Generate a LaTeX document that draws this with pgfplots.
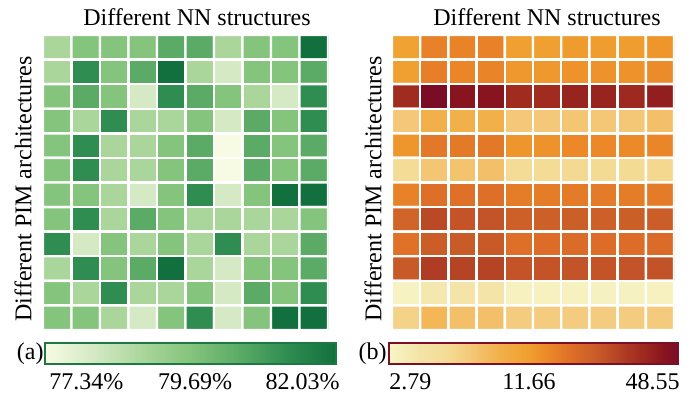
\documentclass[border=0pt]{standalone}
\usepackage{pgfplots}
\pgfplotsset{compat=1.18}
\usepackage{fontspec}
\setmainfont{Liberation Serif}
\definecolor{gdark}{RGB}{30,120,68}
\definecolor{rdark}{RGB}{122,16,37}
\pgfplotsset{
 colormap={greensL}{rgb255(0cm)=(247,251,228) rgb255(1cm)=(212,233,196) rgb255(2cm)=(170,214,155) rgb255(3cm)=(132,196,124) rgb255(4cm)=(91,171,102) rgb255(5cm)=(47,141,81) rgb255(6cm)=(17,112,61)},
 colormap={orangesL}{rgb255(0cm)=(247,246,200) rgb255(10cm)=(244,228,168) rgb255(20cm)=(244,220,150) rgb255(28cm)=(244,200,120) rgb255(38cm)=(242,176,74) rgb255(48cm)=(240,160,48) rgb255(55cm)=(236,136,40) rgb255(60cm)=(226,120,40) rgb255(64cm)=(220,108,40) rgb255(70cm)=(204,96,40) rgb255(74cm)=(196,84,40) rgb255(79cm)=(180,68,36) rgb255(81cm)=(176,60,36) rgb255(87cm)=(160,44,32) rgb255(90cm)=(152,36,32) rgb255(95cm)=(136,20,32) rgb255(100cm)=(122,12,37)},
 hm/.style={scale only axis, xmin=-0.5, xmax=9.5, ymin=-0.5, ymax=11.5, y dir=reverse, hide axis, colorbar horizontal},
}
\pgfplotstableread[row sep=\\]{
x y v\\
0 0 78.90\\ 1 0 79.69\\ 2 0 79.69\\ 3 0 79.69\\ 4 0 80.47\\ 5 0 80.47\\ 6 0 78.90\\ 7 0 79.69\\ 8 0 79.69\\ 9 0 82.03\\
0 1 78.90\\ 1 1 81.25\\ 2 1 79.69\\ 3 1 80.47\\ 4 1 82.03\\ 5 1 78.90\\ 6 1 78.12\\ 7 1 79.69\\ 8 1 79.69\\ 9 1 80.47\\
0 2 79.69\\ 1 2 80.47\\ 2 2 79.69\\ 3 2 78.12\\ 4 2 81.25\\ 5 2 80.47\\ 6 2 79.69\\ 7 2 78.90\\ 8 2 78.12\\ 9 2 81.25\\
0 3 79.69\\ 1 3 78.90\\ 2 3 81.25\\ 3 3 78.90\\ 4 3 78.90\\ 5 3 79.69\\ 6 3 78.12\\ 7 3 80.47\\ 8 3 79.69\\ 9 3 81.25\\
0 4 79.69\\ 1 4 81.25\\ 2 4 78.90\\ 3 4 78.90\\ 4 4 79.69\\ 5 4 80.47\\ 6 4 77.34\\ 7 4 80.47\\ 8 4 79.69\\ 9 4 80.47\\
0 5 79.69\\ 1 5 81.25\\ 2 5 78.90\\ 3 5 78.90\\ 4 5 79.69\\ 5 5 80.47\\ 6 5 77.34\\ 7 5 80.47\\ 8 5 79.69\\ 9 5 80.47\\
0 6 79.69\\ 1 6 79.69\\ 2 6 78.90\\ 3 6 78.12\\ 4 6 79.69\\ 5 6 81.25\\ 6 6 78.12\\ 7 6 79.69\\ 8 6 82.03\\ 9 6 82.03\\
0 7 79.69\\ 1 7 81.25\\ 2 7 78.90\\ 3 7 80.47\\ 4 7 79.69\\ 5 7 78.90\\ 6 7 78.90\\ 7 7 78.90\\ 8 7 78.90\\ 9 7 79.69\\
0 8 81.25\\ 1 8 78.12\\ 2 8 79.69\\ 3 8 78.90\\ 4 8 79.69\\ 5 8 78.90\\ 6 8 81.25\\ 7 8 78.90\\ 8 8 78.90\\ 9 8 80.47\\
0 9 78.90\\ 1 9 81.25\\ 2 9 79.69\\ 3 9 80.47\\ 4 9 82.03\\ 5 9 78.90\\ 6 9 78.12\\ 7 9 79.69\\ 8 9 79.69\\ 9 9 80.47\\
0 10 79.69\\ 1 10 78.90\\ 2 10 81.25\\ 3 10 78.90\\ 4 10 78.90\\ 5 10 79.69\\ 6 10 78.12\\ 7 10 80.47\\ 8 10 79.69\\ 9 10 81.25\\
0 11 79.69\\ 1 11 79.69\\ 2 11 78.90\\ 3 11 78.12\\ 4 11 79.69\\ 5 11 81.25\\ 6 11 78.12\\ 7 11 79.69\\ 8 11 82.03\\ 9 11 82.03\\
}\accdata
\pgfplotstableread[row sep=\\]{
x y v\\
0 0 10.7\\ 1 0 14.2\\ 2 0 14.0\\ 3 0 14.3\\ 4 0 10.9\\ 5 0 11.0\\ 6 0 11.4\\ 7 0 11.3\\ 8 0 11.3\\ 9 0 12.0\\
0 1 11.0\\ 1 1 14.6\\ 2 1 13.8\\ 3 1 13.9\\ 4 1 11.7\\ 5 1 11.7\\ 6 1 12.4\\ 7 1 12.3\\ 8 1 12.3\\ 9 1 13.1\\
0 2 33.5\\ 1 2 48.55\\ 2 2 42.1\\ 3 2 42.1\\ 4 2 33.5\\ 5 2 33.5\\ 6 2 36.5\\ 7 2 36.5\\ 8 2 34.5\\ 9 2 38.6\\
0 3 6.2\\ 1 3 8.3\\ 2 3 8.3\\ 3 3 8.3\\ 4 3 6.2\\ 5 3 6.2\\ 6 3 6.4\\ 7 3 6.3\\ 8 3 6.3\\ 9 3 6.8\\
0 4 12.0\\ 1 4 15.5\\ 2 4 15.2\\ 3 4 15.3\\ 4 4 12.0\\ 5 4 12.3\\ 6 4 13.4\\ 7 4 13.4\\ 8 4 13.3\\ 9 4 13.8\\
0 5 4.9\\ 1 5 6.4\\ 2 5 6.6\\ 3 5 6.8\\ 4 5 4.9\\ 5 5 4.9\\ 6 5 5.1\\ 7 5 5.0\\ 8 5 5.0\\ 9 5 5.2\\
0 6 14.2\\ 1 6 16.9\\ 2 6 16.7\\ 3 6 16.8\\ 4 6 15.0\\ 5 6 15.0\\ 6 6 15.1\\ 7 6 15.1\\ 8 6 15.0\\ 9 6 15.1\\
0 7 19.5\\ 1 7 25.2\\ 2 7 23.1\\ 3 7 23.4\\ 4 7 20.6\\ 5 7 20.6\\ 6 7 20.8\\ 7 7 20.7\\ 8 7 20.8\\ 9 7 21.2\\
0 8 16.4\\ 1 8 21.2\\ 2 8 21.6\\ 3 8 21.8\\ 4 8 16.8\\ 5 8 17.4\\ 6 8 17.5\\ 7 8 17.3\\ 8 8 17.4\\ 9 8 17.6\\
0 9 21.8\\ 1 9 28.2\\ 2 9 26.6\\ 3 9 26.6\\ 4 9 23.1\\ 5 9 23.1\\ 6 9 23.3\\ 7 9 23.2\\ 8 9 23.3\\ 9 9 23.6\\
0 10 2.95\\ 1 10 3.5\\ 2 10 3.7\\ 3 10 3.7\\ 4 10 3.04\\ 5 10 3.04\\ 6 10 3.04\\ 7 10 3.0\\ 8 10 3.0\\ 9 10 3.04\\
0 11 5.5\\ 1 11 7.6\\ 2 11 6.8\\ 3 11 6.8\\ 4 11 5.9\\ 5 11 5.9\\ 6 11 5.9\\ 7 11 5.9\\ 8 11 5.9\\ 9 11 6.0\\
}\engdata
\begin{document}
\begin{tikzpicture}[font=\fontsize{12}{14}\selectfont]
\useasboundingbox (0,0) rectangle (347pt,196.5pt);
\begin{axis}[hm, name=A, at={(21.5pt,31.5pt)}, anchor=south west,
  width=142.5pt, height=147.5pt,
  colormap name=greensL, point meta min=77.34, point meta max=82.03,
  colorbar style={at={(parent axis.south west)}, anchor=north west, xshift=1pt, yshift=2pt,
    scale only axis, width=145.5pt, height=10.5pt, xtick=\empty, ytick=\empty,
    axis line style={draw=gdark, line width=1pt}}]
\addplot[matrix plot*, mesh/cols=10, draw=white, line width=1.2pt, point meta=\thisrow{v}] table {\accdata};
\end{axis}
\begin{axis}[hm, name=B, at={(196pt,31.5pt)}, anchor=south west,
  width=141pt, height=147.5pt,
  colormap name=orangesL, point meta min=1.02604, point meta max=3.88259,
  colorbar style={at={(parent axis.south west)}, anchor=north west, xshift=-1.5pt, yshift=2pt,
    scale only axis, width=144.5pt, height=10.5pt, xtick=\empty, ytick=\empty,
    axis line style={draw=rdark, line width=1pt}}]
\addplot[matrix plot*, mesh/cols=10, draw=white, line width=1.2pt, point meta={ln(\thisrow{v})}] table {\engdata};
\end{axis}
\node at (98.5pt,188pt) {Different NN structures};
\node at (273.5pt,188pt) {Different NN structures};
\node[rotate=90] at (11.5pt,102pt) {Different PIM architectures};
\node[rotate=90] at (186.5pt,102pt) {Different PIM architectures};
\node[anchor=base east, inner sep=0pt] at (22pt,17pt) {(a)};
\node[anchor=base east, inner sep=0pt] at (193.5pt,17pt) {(b)};
\node[anchor=base west, inner sep=0pt] at (24.5pt,2pt) {77.34\%};
\node[anchor=base, inner sep=0pt] at (97.5pt,2pt) {79.69\%};
\node[anchor=base east, inner sep=0pt] at (170pt,2pt) {82.03\%};
\node[anchor=base west, inner sep=0pt] at (194.5pt,2pt) {2.79};
\node[anchor=base, inner sep=0pt] at (264.5pt,2pt) {11.66};
\node[anchor=base east, inner sep=0pt] at (340pt,2pt) {48.55};
\end{tikzpicture}
\end{document}
